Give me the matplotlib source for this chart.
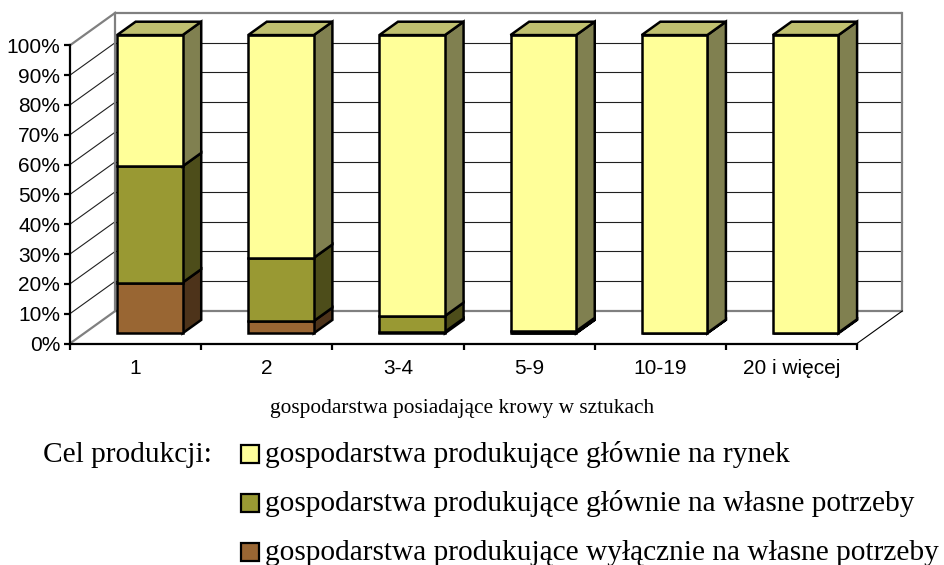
import matplotlib
matplotlib.use('Agg')
import matplotlib.pyplot as plt
from matplotlib.patches import Polygon, Rectangle
import numpy as np

# ---------------- data ----------------
categories = ['1', '2', '3-4', '5-9', '10-19', '20 i więcej']
y_ticks = [0, 10, 20, 30, 40, 50, 60, 70, 80, 90, 100]
y_tick_labels = ['0%', '10%', '20%', '30%', '40%', '50%', '60%', '70%', '80%', '90%', '100%']

# stacked from bottom to top
wylacznie_wlasne = [17.0, 4.1, 0.5, 0.1, 0.0, 0.0]
glownie_wlasne = [39.0, 21.2, 5.3, 0.6, 0.1, 0.2]
glownie_rynek = [44.0, 74.7, 94.2, 99.3, 99.9, 99.8]

series_names = ['gospodarstwa produkujące wyłącznie na własne potrzeby',
                'gospodarstwa produkujące głównie na własne potrzeby',
                'gospodarstwa produkujące głównie na rynek']
series_values = [wylacznie_wlasne, glownie_wlasne, glownie_rynek]
front_colors = ['#996633', '#999933', '#FFFF99']
side_colors = ['#4D331A', '#4D4D1A', '#808050']
top_colors = ['#734D26', '#737326', '#C0C070']

x_title = 'gospodarstwa posiadające krowy w sztukach'
legend_title = 'Cel produkcji:'

# ---------------- layout ----------------
W, H = 944, 565
SANS = ['Liberation Sans', 'DejaVu Sans']
SERIF = ['Liberation Serif', 'DejaVu Serif']

fig = plt.figure(figsize=(W / 100, H / 100), dpi=100)
X0, Y0 = 70.0, 343.5         # pixel of (0, 0%)
CAT_PX, PCT_PX = 131.17, 2.982
XMAX, YMAX = 6.4, 112
ax = fig.add_axes([X0 / W, (H - Y0) / H, XMAX * CAT_PX / W, YMAX * PCT_PX / H])
ax.set_xlim(0, XMAX)
ax.set_ylim(0, YMAX)
ax.patch.set_visible(False)

DX, DY = 0.345, 10.9          # full depth offset in data units
F0, F1 = 0.314, 0.726         # bar front / back depth fraction
BW = 0.5
n = len(categories)

# back wall grid lines
grey = '#808080'
for p in y_ticks:
    if p in (0, 100):
        ax.plot([DX, n + DX], [p + DY, p + DY], color=grey, lw=1.6, zorder=1, solid_capstyle='butt')
        ax.plot([0, DX], [p, p + DY], color=grey, lw=1.6, zorder=1)
    else:
        ax.plot([DX, n + DX], [p + DY, p + DY], color='#202020', lw=0.8, zorder=1)
        ax.plot([0, DX], [p, p + DY], color='#202020', lw=0.8, zorder=1)
# wall verticals
ax.plot([DX, DX], [DY, 100 + DY], color=grey, lw=1.6, zorder=1)
ax.plot([n + DX, n + DX], [DY, 100 + DY], color=grey, lw=1.6, zorder=1)
# floor right edge
ax.plot([n, n + DX], [0, DY], color='black', lw=0.8, zorder=1)

# bars
for i in range(n):
    xl = i + 0.5 - BW / 2
    xr = i + 0.5 + BW / 2
    base = 0.0
    last = None
    for s, vals in enumerate(series_values):
        v = vals[i]
        if v <= 0:
            continue
        y0, y1 = base, base + v
        front = [(xl + F0 * DX, y0 + F0 * DY), (xr + F0 * DX, y0 + F0 * DY),
                 (xr + F0 * DX, y1 + F0 * DY), (xl + F0 * DX, y1 + F0 * DY)]
        side = [(xr + F0 * DX, y0 + F0 * DY), (xr + F1 * DX, y0 + F1 * DY),
                (xr + F1 * DX, y1 + F1 * DY), (xr + F0 * DX, y1 + F0 * DY)]
        ax.add_patch(Polygon(side, closed=True, facecolor=side_colors[s], edgecolor='black',
                             lw=1.8, joinstyle='miter', zorder=3))
        ax.add_patch(Polygon(front, closed=True, facecolor=front_colors[s], edgecolor='black',
                             lw=1.8, joinstyle='miter', zorder=3))
        base = y1
        last = s
    if last is not None:
        top = [(xl + F0 * DX, base + F0 * DY), (xl + F1 * DX, base + F1 * DY),
               (xr + F1 * DX, base + F1 * DY), (xr + F0 * DX, base + F0 * DY)]
        ax.add_patch(Polygon(top, closed=True, facecolor=top_colors[last], edgecolor='black',
                             lw=1.8, joinstyle='miter', zorder=3))

# axes
for sp in ('top', 'right'):
    ax.spines[sp].set_visible(False)
ax.spines['left'].set_bounds(0, 100)
ax.spines['bottom'].set_bounds(0, n)
for sp in ('left', 'bottom'):
    ax.spines[sp].set_linewidth(1.6)
    ax.spines[sp].set_zorder(4)

ax.set_yticks(y_ticks)
ax.set_yticklabels(y_tick_labels, family=SANS, fontsize=15)
ax.tick_params(axis='y', length=4, width=1.6, direction='out', pad=3)

ax.set_xticks(np.arange(n + 1))
ax.set_xticklabels([])
ax.tick_params(axis='x', which='major', length=4.5, width=1.6, direction='out')
ax.set_xticks(np.arange(n) + 0.5, minor=True)
ax.set_xticklabels(categories, minor=True, family=SANS, fontsize=15)
ax.tick_params(axis='x', which='minor', length=0, pad=11)

# axis title
fig.text(462 / W, 1 - 413 / H, x_title, ha='center', va='baseline',
         family=SERIF, fontsize=15.4)

# legend
LEG_FS = 21.2
baselines = [462, 511, 560]
fig.text(43 / W, 1 - baselines[0] / H, legend_title, ha='left', va='baseline',
         family=SERIF, fontsize=LEG_FS)
for row, s in enumerate(reversed(range(len(series_names)))):
    b = baselines[row]
    fig.patches.append(Rectangle((241 / W, 1 - (b + 1) / H), 18 / W, 18 / H,
                                 transform=fig.transFigure, facecolor=front_colors[s],
                                 edgecolor='black', lw=1.6))
    fig.text(265 / W, 1 - b / H, series_names[s], ha='left', va='baseline',
             family=SERIF, fontsize=LEG_FS)

fig.savefig('out.png', dpi=100)
